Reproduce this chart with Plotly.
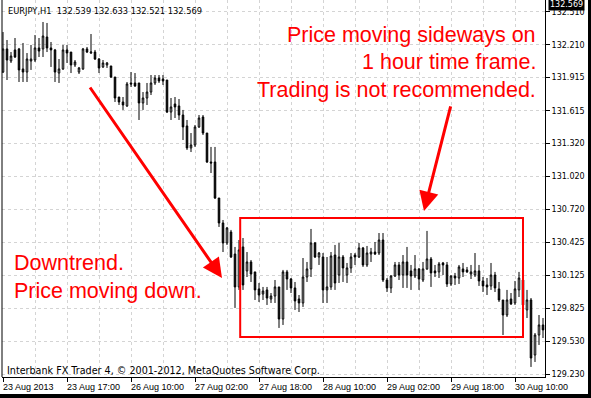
import plotly.graph_objects as go

# ---------------- data ----------------
bar_index = list(range(136))

opens = [131.965, 132.174, 132.065, 132.165, 132.174, 131.993, 131.965, 132.065, 132.074, 132.183,
         132.174, 132.282, 132.183, 132.165, 131.956, 131.993, 132.165, 132.146, 132.029, 131.965,
         131.993, 132.174, 132.137, 132.146, 132.083, 132.011, 132.029, 132.020, 131.920, 131.739,
         131.694, 131.658, 131.866, 131.866, 131.866, 131.685, 131.730, 131.784, 131.866, 131.911,
         131.902, 131.893, 131.603, 131.676, 131.658, 131.576, 131.477, 131.278, 131.305, 131.468,
         131.558, 131.413, 131.151, 131.151, 130.825, 130.599, 130.418, 130.517, 130.318, 130.020,
         130.382, 130.165, 130.246, 130.156, 130.002, 129.956, 129.993, 129.911, 129.938, 130.020,
         129.730, 130.156, 130.092, 130.011, 129.911, 129.875, 130.110, 130.183, 130.418, 130.291,
         130.291, 129.993, 130.020, 130.309, 130.128, 130.291, 130.128, 130.192, 130.309, 130.291,
         130.373, 130.219, 130.318, 130.336, 130.327, 130.445, 130.083, 130.011, 130.119, 130.219,
         130.128, 130.246, 130.165, 130.119, 130.183, 130.083, 130.183, 130.273, 130.165, 130.156,
         130.237, 130.219, 130.047, 130.119, 130.101, 130.183, 130.174, 130.137, 130.128, 130.165,
         130.074, 130.038, 130.029, 130.128, 130.002, 129.902, 129.766, 129.911, 129.875, 129.993,
         130.083, 129.812, 129.902, 129.404, 129.585, 129.676]

highs = [132.327, 132.255, 132.146, 132.273, 132.183, 132.228, 132.137, 132.210, 132.300, 132.273,
         132.418, 132.409, 132.237, 132.174, 132.083, 132.210, 132.210, 132.146, 132.074, 132.011,
         132.183, 132.192, 132.309, 132.165, 132.092, 132.074, 132.056, 132.020, 131.920, 131.739,
         131.739, 131.875, 131.965, 131.956, 131.866, 131.784, 131.866, 131.938, 131.938, 131.938,
         131.938, 131.893, 131.730, 131.739, 131.721, 131.622, 131.531, 131.413, 131.486, 131.576,
         131.576, 131.413, 131.287, 131.287, 130.825, 130.626, 130.563, 130.536, 130.382, 130.445,
         130.463, 130.336, 130.264, 130.156, 130.056, 130.020, 130.020, 129.965, 130.083, 130.020,
         130.174, 130.174, 130.101, 130.065, 129.947, 130.282, 130.246, 130.545, 130.427, 130.336,
         130.327, 130.291, 130.336, 130.400, 130.418, 130.309, 130.237, 130.327, 130.327, 130.418,
         130.382, 130.391, 130.373, 130.427, 130.508, 130.508, 130.101, 130.128, 130.246, 130.246,
         130.309, 130.382, 130.219, 130.309, 130.192, 130.246, 130.527, 130.291, 130.219, 130.246,
         130.246, 130.246, 130.128, 130.147, 130.219, 130.237, 130.201, 130.219, 130.327, 130.219,
         130.110, 130.101, 130.237, 130.156, 130.065, 129.902, 129.993, 129.965, 130.074, 130.156,
         130.128, 129.993, 129.920, 129.603, 129.766, 129.739]

lows = [131.956, 131.893, 132.047, 132.092, 131.875, 131.875, 131.875, 131.984, 132.056, 132.101,
        132.101, 132.146, 132.011, 131.875, 131.866, 131.984, 132.047, 131.956, 132.011, 131.947,
        131.984, 132.137, 132.128, 132.074, 131.956, 132.002, 132.002, 131.911, 131.694, 131.667,
        131.622, 131.649, 131.830, 131.830, 131.531, 131.622, 131.667, 131.757, 131.848, 131.866,
        131.848, 131.594, 131.531, 131.549, 131.531, 131.350, 131.260, 131.241, 131.287, 131.459,
        131.395, 131.142, 131.051, 130.816, 130.563, 130.336, 130.400, 130.282, 129.830, 129.993,
        129.993, 130.110, 130.065, 129.902, 129.884, 129.902, 129.857, 129.875, 129.875, 129.649,
        129.676, 129.993, 129.965, 129.812, 129.793, 129.839, 130.065, 130.110, 130.282, 130.219,
        129.875, 129.875, 129.993, 129.993, 130.056, 130.065, 130.056, 130.147, 130.219, 130.282,
        130.201, 130.201, 130.246, 130.309, 130.309, 130.065, 129.974, 129.965, 130.110, 130.083,
        130.011, 130.011, 129.993, 130.101, 129.993, 130.065, 130.174, 130.020, 130.110, 130.101,
        130.128, 130.020, 130.029, 130.038, 130.047, 130.110, 130.147, 130.092, 130.110, 130.029,
        129.974, 129.947, 129.993, 129.974, 129.884, 129.585, 129.748, 129.857, 129.857, 129.929,
        129.812, 129.739, 129.296, 129.341, 129.495, 129.558]

closes = [132.174, 132.074, 132.110, 132.101, 131.984, 131.965, 132.083, 132.083, 132.183, 132.155,
          132.291, 132.183, 132.165, 131.965, 131.993, 132.165, 132.137, 132.029, 132.056, 132.002,
          132.174, 132.146, 132.146, 132.083, 132.002, 132.047, 132.047, 131.920, 131.730, 131.694,
          131.667, 131.857, 131.857, 131.839, 131.685, 131.730, 131.784, 131.866, 131.911, 131.884,
          131.884, 131.603, 131.649, 131.649, 131.576, 131.468, 131.278, 131.305, 131.468, 131.549,
          131.413, 131.151, 131.142, 130.825, 130.599, 130.418, 130.554, 130.291, 130.020, 130.355,
          130.038, 130.246, 130.137, 129.993, 129.947, 129.983, 129.920, 129.938, 130.020, 129.730,
          130.156, 130.092, 130.011, 129.893, 129.875, 130.110, 130.183, 130.418, 130.291, 130.327,
          129.993, 130.020, 130.300, 130.056, 130.291, 130.192, 130.192, 130.291, 130.291, 130.373,
          130.219, 130.327, 130.336, 130.318, 130.445, 130.083, 130.011, 130.119, 130.219, 130.128,
          130.246, 130.128, 130.119, 130.183, 130.092, 130.183, 130.273, 130.147, 130.147, 130.228,
          130.219, 130.047, 130.119, 130.101, 130.201, 130.156, 130.156, 130.156, 130.165, 130.074,
          130.029, 130.020, 130.128, 130.011, 129.902, 129.766, 129.902, 129.866, 130.002, 130.101,
          129.857, 129.902, 129.377, 129.585, 129.676, 129.631]

time_tick_bars = [0, 16, 32, 48, 64, 80, 96, 112, 128]
time_tick_labels = ["23 Aug 2013", "23 Aug 17:00", "26 Aug 10:00", "27 Aug 02:00", "27 Aug 18:00",
                    "28 Aug 10:00", "29 Aug 02:00", "29 Aug 18:00", "30 Aug 10:00"]
price_ticks = [129.230, 129.530, 129.825, 130.125, 130.425, 130.720, 131.020,
               131.320, 131.615, 131.915, 132.210, 132.510]

symbol_title = "EURJPY,H1"
header_ohlc = [132.539, 132.633, 132.521, 132.569]
current_price = 132.569
footer_text = "Interbank FX Trader 4, \u00a9 2001-2012, MetaQuotes Software Corp."

sideways_box = dict(bar_start=59.3, bar_end=130, price_low=129.567, price_high=130.644)
down_arrow_head = (54.75, 130.101)
side_arrow_head = (105.25, 130.708)

right_text = ["Price moving sideways on", "1 hour time frame.", "Trading is not recommended."]
left_text = ["Downtrend.", "Price moving down."]

# ---------------- figure ----------------
RED = "#ff0000"
GRID = "#d4d4d4"
BIG_FONT = "Liberation Sans, Arial, sans-serif"
BIG_SIZE = 21.5

fig = go.Figure()
fig.add_trace(go.Candlestick(
    x=bar_index, open=opens, high=highs, low=lows, close=closes,
    increasing=dict(line=dict(color="black", width=1), fillcolor="white"),
    decreasing=dict(line=dict(color="black", width=1), fillcolor="black"),
    whiskerwidth=0, showlegend=False, hoverinfo="skip",
))

W, H = 591, 398
ML, MR, MT, MB = 2, 46, 0, 21
pw = W - ML - MR
ph = H - MT - MB

fig.update_layout(
    width=W, height=H,
    margin=dict(l=ML, r=MR, t=MT, b=MB, pad=0),
    paper_bgcolor="white", plot_bgcolor="white",
    boxgap=0.45,
    showlegend=False,
    xaxis=dict(
        range=[-0.25, 135.5], rangeslider=dict(visible=False),
        tickmode="array", tickvals=time_tick_bars, ticktext=[""] * len(time_tick_bars),
        ticks="outside", ticklen=4, tickcolor="black", tickwidth=1,
        showgrid=True, gridcolor=GRID, griddash="3px,3px", gridwidth=1,
        minor=dict(tickmode="linear", tick0=0, dtick=8, showgrid=True,
                   gridcolor=GRID, griddash="3px,3px", gridwidth=1, ticks=""),
        showline=True, linecolor="black", linewidth=1,
        zeroline=False, fixedrange=True,
    ),
    yaxis=dict(
        side="right", range=[129.205, 132.617],
        tickmode="array", tickvals=price_ticks, ticktext=[f"{v:.3f}" for v in price_ticks],
        ticks="outside", ticklen=4, tickcolor="black", tickwidth=1,
        tickfont=dict(family="DejaVu Sans", size=8, color="black"),
        showgrid=True, gridcolor=GRID, griddash="3px,3px", gridwidth=1,
        showline=True, linecolor="black", linewidth=1,
        zeroline=False, fixedrange=True,
    ),
)

annotations = []
# x axis labels (left-aligned at tick like MT4)
for b, lab in zip(time_tick_bars, time_tick_labels):
    annotations.append(dict(x=b, y=-10 / ph, xref="x", yref="paper", text=lab, showarrow=False,
                            xanchor="left", yanchor="middle", xshift=-2,
                            font=dict(family="Liberation Sans", size=9, color="black")))
# header
annotations.append(dict(x=4 / pw, y=1 - 11 / ph, xref="paper", yref="paper",
                        text=symbol_title + "  " + " ".join(f"{v:.3f}" for v in header_ohlc),
                        showarrow=False, xanchor="left", yanchor="middle",
                        font=dict(family="DejaVu Sans", size=8.3, color="black")))
# footer
annotations.append(dict(x=3 / pw, y=7 / ph, xref="paper", yref="paper", text=footer_text,
                        showarrow=False, xanchor="left", yanchor="middle",
                        font=dict(family="DejaVu Sans", size=9.6, color="black")))
# current price box
annotations.append(dict(x=(548 - ML) / pw, y=current_price, xref="paper", yref="y",
                        text=f"{current_price:.3f}", showarrow=False, xanchor="left",
                        yanchor="middle", yshift=1, bgcolor="black", borderpad=1,
                        font=dict(family="DejaVu Sans", size=8, color="white")))
# red arrows
annotations.append(dict(x=down_arrow_head[0], y=down_arrow_head[1], xref="x", yref="y",
                        ax=-133, ay=-192, text="", showarrow=True, arrowhead=2,
                        arrowsize=1.3, arrowwidth=3, arrowcolor=RED))
annotations.append(dict(x=side_arrow_head[0], y=side_arrow_head[1], xref="x", yref="y",
                        ax=27, ay=-106, text="", showarrow=True, arrowhead=2,
                        arrowsize=1.3, arrowwidth=3, arrowcolor=RED))
# right text
for k, line in enumerate(right_text):
    annotations.append(dict(x=(538 - ML) / pw, y=1 - (34.5 + 27.6 * k) / ph, xref="paper", yref="paper",
                            text=line, showarrow=False, xanchor="right", yanchor="middle",
                            font=dict(family=BIG_FONT, size=BIG_SIZE, color=RED)))
# left text
for k, line in enumerate(left_text):
    annotations.append(dict(x=(12 - ML) / pw, y=1 - (263 + 28 * k) / ph, xref="paper", yref="paper",
                            text=line, showarrow=False, xanchor="left", yanchor="middle",
                            font=dict(family=BIG_FONT, size=BIG_SIZE, color=RED)))
fig.update_layout(annotations=annotations)

shapes = [
    dict(type="rect", xref="x", yref="y",
         x0=sideways_box["bar_start"], x1=sideways_box["bar_end"],
         y0=sideways_box["price_low"], y1=sideways_box["price_high"],
         line=dict(color=RED, width=2), fillcolor="rgba(0,0,0,0)", layer="above"),
    # left frame line
    dict(type="line", xref="paper", yref="paper", x0=0, x1=0, y0=0, y1=1,
         line=dict(color="black", width=1)),
    # window border (right and bottom)
    dict(type="rect", xref="paper", yref="paper", x0=(588 - ML) / pw, x1=(595 - ML) / pw,
         y0=-25 / ph, y1=1.02, line=dict(width=0), fillcolor="black", layer="above"),
    dict(type="rect", xref="paper", yref="paper", x0=-0.02, x1=(595 - ML) / pw,
         y0=-(394 - ph) / ph, y1=-(402 - ph) / ph, line=dict(width=0), fillcolor="black", layer="above"),
]
fig.update_layout(shapes=shapes)

fig.write_html("out.html", config={"displayModeBar": False},
               post_script="document.body.style.margin='0px';")
